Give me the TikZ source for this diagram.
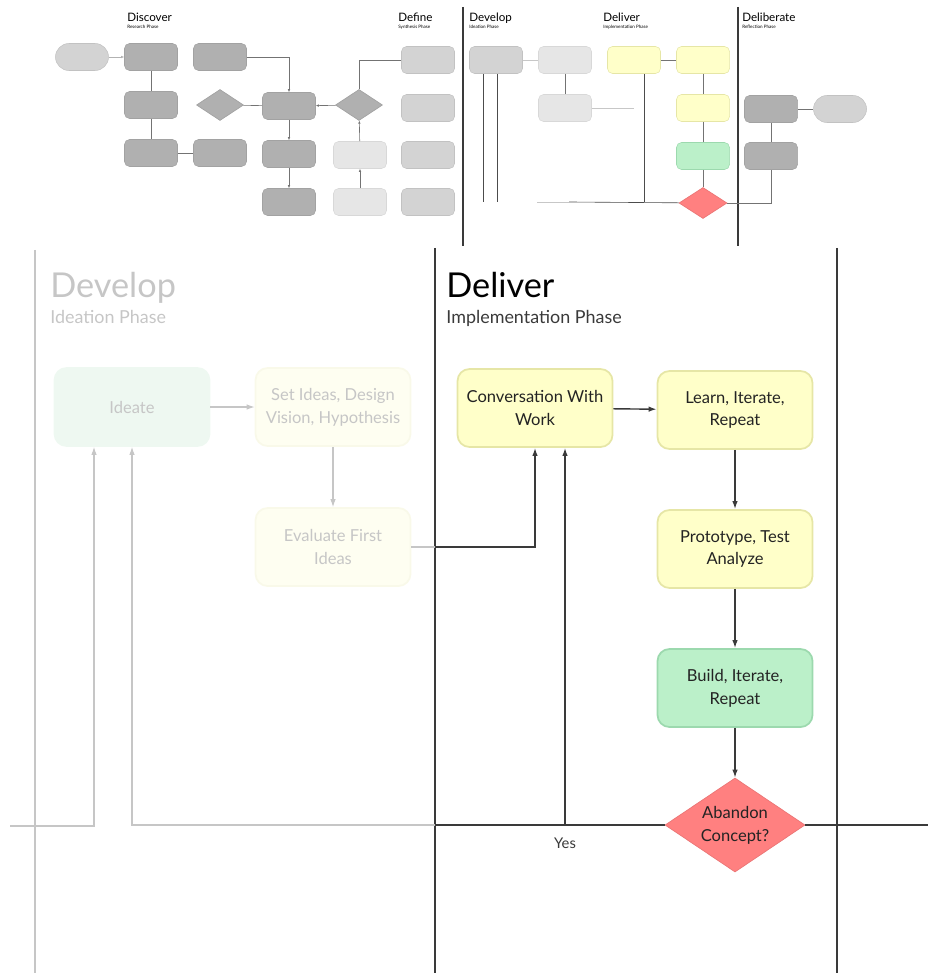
\documentclass[tikz,border=0pt]{standalone}
\usepackage{fontspec}
\setmainfont{Lato}
\usepackage{tikz}
\usetikzlibrary{arrows.meta, shapes.geometric}

\definecolor{boxdark}{HTML}{B0B0B0}
\definecolor{boxmid}{HTML}{D3D3D3}
\definecolor{boxlight}{HTML}{E6E6E6}
\definecolor{boxyellow}{HTML}{FFFFC9}
\definecolor{lineyellow}{HTML}{E6E6A6}
\definecolor{boxgreen}{HTML}{BBF0C9}
\definecolor{linegreen}{HTML}{9CD9AE}
\definecolor{boxred}{HTML}{FF8080}
\definecolor{paleyellow}{HTML}{FEFEF1}
\definecolor{palegreen}{HTML}{EEF8F1}
\definecolor{faded}{HTML}{C6C6C6}
\definecolor{ink}{HTML}{3A3A3A}

\begin{document}
\begin{tikzpicture}[x = 0.2mm, y = -0.2mm]
% Node styles ---
\tikzstyle{sbox} = [rectangle, rounded corners = 0.1cm, minimum width = 1.06cm, minimum height = 0.54cm, inner sep = 0pt, line width = 0.3pt] % Overview boxes
\tikzstyle{sdark} = [sbox, draw = boxdark!92!black, fill = boxdark]
\tikzstyle{smid} = [sbox, draw = boxmid!92!black, fill = boxmid]
\tikzstyle{slight} = [sbox, draw = boxlight!94!black, fill = boxlight]
\tikzstyle{syel} = [sbox, draw = lineyellow, fill = boxyellow]
\tikzstyle{sgrn} = [sbox, draw = linegreen, fill = boxgreen]
\tikzstyle{sterm} = [sbox, rounded corners = 0.27cm, draw = boxmid!92!black, fill = boxmid] % Start / end
\tikzstyle{sdia} = [diamond, minimum width = 0.94cm, minimum height = 0.62cm, inner sep = 0pt, draw = boxdark!92!black, fill = boxdark] % Overview decisions
\tikzstyle{ttitle} = [anchor = base west, inner sep = 0pt, font = \fontsize{6.6}{7}\selectfont] % Overview headings
\tikzstyle{tsub} = [anchor = base west, inner sep = 0pt, font = \fontsize{2.6}{3}\selectfont] % Overview phases
\tikzstyle{bbox} = [rectangle, rounded corners = 0.24cm, minimum width = 3.1cm, minimum height = 1.56cm, inner sep = 0pt, line width = 1pt, align = center, font = \fontsize{9.4}{13}\selectfont] % Detail boxes
\tikzstyle{bfade} = [bbox, draw = lineyellow!25, fill = paleyellow, text = faded]
\tikzstyle{byel} = [bbox, draw = lineyellow, fill = boxyellow, text = ink!60!black]
\tikzstyle{bgrn} = [bbox, draw = linegreen, fill = boxgreen, text = ink!60!black]
\tikzstyle{bred} = [diamond, aspect = 1.5, minimum width = 2.8cm, minimum height = 1.88cm, inner sep = 0pt, draw = boxred!92!black, line width = 0.4pt, fill = boxred, align = center, font = \fontsize{9.4}{13}\selectfont, text = ink!60!black] % Decision
% Edge styles
\tikzstyle{tln} = [draw = black!55, line width = 0.35pt] % Overview lines
\tikzstyle{tlnl} = [draw = black!22, line width = 0.35pt] % Overview faded lines
\tikzstyle{tcon} = [tln, -{Latex[length = 0.6mm, width = 0.5mm]}] % Overview arrows
\tikzstyle{ln} = [draw = ink, line width = 0.8pt] % Lines
\tikzstyle{con} = [ln, -{Latex[length = 1.6mm, width = 1.1mm]}] % Arrows
\tikzstyle{lnf} = [draw = faded, line width = 0.6pt] % Faded lines
\tikzstyle{conf} = [lnf, -{Latex[length = 1.6mm, width = 1.1mm]}] % Faded arrows
\tikzstyle{divider} = [draw = ink, line width = 0.6pt]
% Begin Figure ---
\useasboundingbox (0,0) rectangle (928,973);
% Overview: headings
\node at (127,22) [ttitle] (tdisc) {Discover};
\node at (127,29) [tsub] (tdiscsub) {Research Phase};
\node at (398,22) [ttitle] (tdef) {Define};
\node at (398,29) [tsub] (tdefsub) {Synthesis Phase};
\node at (469,22) [ttitle] (tdev) {Develop};
\node at (469,29) [tsub] (tdevsub) {Ideation Phase};
\node at (603,22) [ttitle] (tdel) {Deliver};
\node at (603,29) [tsub] (tdelsub) {Implementation Phase};
\node at (742,22) [ttitle] (tdlb) {Deliberate};
\node at (742,29) [tsub] (tdlbsub) {Reflection Phase};
\draw [divider] (463,7) -- (463,246);
\draw [divider] (738,7) -- (738,246);
% Overview: nodes
\node at (82,57) [sterm] (tstart) {};
\node at (151,57) [sdark] (ta) {};
\node at (220,57) [sdark] (tb) {};
\node at (151,105) [sdark] (tc) {};
\node at (151,153) [sdark] (td) {};
\node at (220,153) [sdark] (tf) {};
\node at (220,105) [sdia] (tq1) {};
\node at (289,106) [sdark] (te) {};
\node at (289,154) [sdark] (tg) {};
\node at (289,202) [sdark] (th) {};
\node at (359,105) [sdia] (tq2) {};
\node at (360,155) [slight] (tm) {};
\node at (360,202) [slight] (tn) {};
\node at (428,60) [smid] (ti) {};
\node at (428,108) [smid] (tj) {};
\node at (428,155) [smid] (tk) {};
\node at (428,202) [smid] (tl) {};
\node at (496,60) [smid] (tp) {};
\node at (565,60) [slight] (tw1) {};
\node at (565,108) [slight] (tw2) {};
\node at (634,60) [syel] (ts) {};
\node at (703,60) [syel] (tt) {};
\node at (703,108) [syel] (tu) {};
\node at (703,156) [sgrn] (tv) {};
\node at (703,203) [sdia, minimum width = 0.96cm, draw = boxred!92!black, fill = boxred] (tz) {};
\node at (771,109) [sdark] (tx1) {};
\node at (840,109) [sterm] (ty) {};
\node at (771,156) [sdark] (tx2) {};
\coordinate (tw2end) at (634,108);
\coordinate (tup1) at (483,202);
\coordinate (tup2) at (497,202);
\coordinate (tyes1) at (537,202);
\coordinate (tyes2) at (569,202);
\coordinate (tyes3) at (644,202);
% Overview: paths
\path (tstart) edge [tcon, draw = black!30] (ta);
\draw [tcon] (tb) -| (te);
\path (ta) edge [tln] (tc);
\path (tc) edge [tln] (td);
\path (td) edge [tln] (tf);
\path (tq1) edge [tln] (te);
\path (te) edge [tcon] (tg);
\path (tg) edge [tcon] (th);
\path (tq2) edge [tcon] (te);
\draw [tln] (tq2.north) |- (ti);
\path (tm) edge [tcon] (tq2);
\path (tn) edge [tcon] (tm);
\path (tp) edge [tlnl] (tw1);
\path (tw1) edge [tln] (tw2);
\draw [tlnl] (tw2) -- (tw2end);
\draw [tln, draw = black!70] (tup1) -- (tup1 |- tp.south);
\draw [tln, draw = black!70] (tup2) -- (tup2 |- tp.south);
\draw [tlnl] (tyes1) -- (tyes2);
\draw [tln, draw = black!70] (tyes2) -- (tz);
\draw [tln, draw = black!70] (tyes3) -- (tyes3 |- ts.south);
\path (ts) edge [tln] (tt);
\path (tt) edge [tln] (tu);
\path (tu) edge [tln] (tv);
\path (tv) edge [tln] (tz);
\draw [tln] (tz) -| (tx2);
\path (tx1) edge [tln] (ty);
\path (tx1) edge [tln] (tx2);
% Detail: headings
\node at (50,298) [anchor = base west, inner sep = 0pt, font = \fontsize{19.5}{22}\selectfont, text = faded] (develop) {Develop};
\node at (50,324) [anchor = base west, inner sep = 0pt, font = \fontsize{10.2}{12}\selectfont, text = faded] (ideation) {Ideation Phase};
\node at (446,298) [anchor = base west, inner sep = 0pt, font = \fontsize{19.5}{22}\selectfont, text = black] (deliver) {Deliver};
\node at (446,324) [anchor = base west, inner sep = 0pt, font = \fontsize{10.2}{12}\selectfont, text = ink] (implementation) {Implementation Phase};
\draw [divider, draw = faded] (35,250) -- (35,973);
\draw [divider] (435,248) -- (435,973);
\draw [divider] (837,248) -- (837,973);
% Detail: nodes
\node at (132,407) [bfade, draw = palegreen!70!linegreen!40, fill = palegreen] (ideate) {Ideate};
\node at (333,407) [bfade] (setideas) {Set Ideas, Design\\Vision, Hypothesis};
\node at (333,547) [bfade] (evaluate) {Evaluate First\\Ideas};
\node at (535,408) [byel] (convo) {Conversation With\\Work};
\node at (735,410) [byel] (learn) {Learn, Iterate,\\Repeat};
\node at (735,549) [byel] (proto) {Prototype, Test\\Analyze};
\node at (735,688) [bgrn] (build) {Build, Iterate,\\Repeat};
\node at (735,825) [bred] (abandon) {Abandon\\Concept?};
\node at (565,843) [font = \fontsize{8.4}{10}\selectfont, text = ink] (yes) {Yes};
\coordinate (cross) at (435,547);
\coordinate (nojoin) at (435,825);
\coordinate (yesjoin) at (565,825);
\coordinate (leftin) at (10,826);
\coordinate (rightout) at (928,825);
% Detail: paths
\path (ideate) edge [conf] (setideas);
\path (setideas) edge [conf] (evaluate);
\draw [lnf] (evaluate) -- (cross);
\draw [con] (cross) -| (convo);
\path (convo) edge [con] (learn);
\path (learn) edge [con] (proto);
\path (proto) edge [con] (build);
\path (build) edge [con] (abandon);
\draw [ln] (abandon.west) -- (nojoin);
\draw [con] (yesjoin) -- (yesjoin |- convo.south);
\draw [conf] (nojoin) -| (ideate);
\draw [conf] (leftin) -| ([xshift = -7.6mm] ideate.south);
\draw [ln] (abandon.east) -- (rightout);
\end{tikzpicture}
\end{document}
